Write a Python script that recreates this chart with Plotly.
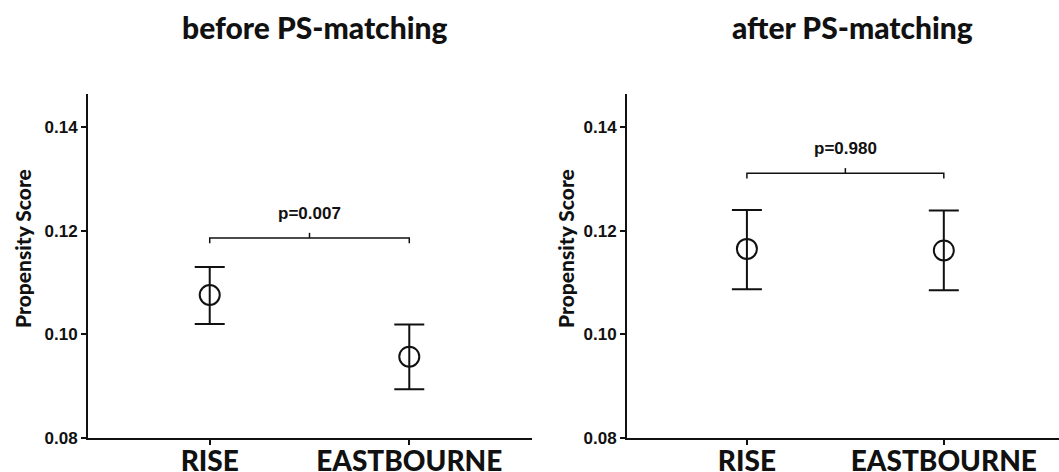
import plotly.graph_objects as go

# ---- data ----
categories = ["RISE", "EASTBOURNE"]
x_pos = [0, 1]

before_mean = [0.1076, 0.0957]
before_upper = [0.1130, 0.1019]
before_lower = [0.1020, 0.0894]

after_mean = [0.1165, 0.1162]
after_upper = [0.1240, 0.1239]
after_lower = [0.1087, 0.1085]

panel_titles = ["before PS-matching", "after PS-matching"]
p_labels = ["p=0.007", "p=0.980"]
bracket_levels = [0.1186, 0.1311]

y_ticks = [0.08, 0.10, 0.12, 0.14]
y_range = [0.08, 0.1464]
x_range_left = [-0.61, 1.615]
x_range_right = [-0.609, 1.585]

W, H = 1059, 472
M_T, M_B = 94, 34
PLOT_H = H - M_T - M_B

BLACK = "#111111"
TITLE_FONT = "Lato"
NUM_FONT = "Liberation Sans"

fig = go.Figure()

panels = [
    (before_mean, before_upper, before_lower, "x", "y"),
    (after_mean, after_upper, after_lower, "x2", "y2"),
]

for i, (mean, up, lo, xa, ya) in enumerate(panels):
    err_plus = [u - m for u, m in zip(up, mean)]
    err_minus = [m - l for m, l in zip(mean, lo)]
    fig.add_trace(go.Scatter(
        x=x_pos, y=mean, mode="markers", xaxis=xa, yaxis=ya,
        marker=dict(symbol="circle-open", size=20, color=BLACK,
                    line=dict(width=2, color=BLACK)),
        error_y=dict(type="data", array=err_plus, arrayminus=err_minus,
                     visible=True, color=BLACK, thickness=2, width=15),
        showlegend=False, hoverinfo="skip",
    ))
    lvl = bracket_levels[i]
    drop = 0.001
    fig.add_trace(go.Scatter(
        x=[x_pos[0], x_pos[0], x_pos[1], x_pos[1]],
        y=[lvl - drop, lvl, lvl, lvl - drop],
        mode="lines", xaxis=xa, yaxis=ya,
        line=dict(color=BLACK, width=1.5),
        showlegend=False, hoverinfo="skip",
    ))
    mid = (x_pos[0] + x_pos[1]) / 2
    fig.add_annotation(
        x=mid, y=lvl + 0.0047, xref=xa, yref=ya, text=p_labels[i],
        showarrow=False, yanchor="middle",
        font=dict(family=NUM_FONT, size=17, color=BLACK, weight="bold"),
    )
    fig.add_trace(go.Scatter(
        x=[mid, mid], y=[lvl, lvl + drop],
        mode="lines", xaxis=xa, yaxis=ya,
        line=dict(color=BLACK, width=1.5),
        showlegend=False, hoverinfo="skip",
    ))

axis_common = dict(
    showline=True, linecolor=BLACK, linewidth=2, showgrid=False,
    zeroline=False, ticks="outside", ticklen=5, tickwidth=1.5,
    tickcolor=BLACK, automargin=False,
)

xfont = dict(family=TITLE_FONT, size=28, color=BLACK, weight=900)
yfont = dict(family=NUM_FONT, size=17, color=BLACK, weight="bold")

fig.update_layout(
    width=W, height=H,
    margin=dict(l=0, r=0, t=M_T, b=M_B, autoexpand=False),
    paper_bgcolor="white", plot_bgcolor="white",
    xaxis=dict(domain=[88 / W, 532 / W], range=x_range_left,
               tickvals=x_pos, ticktext=categories, anchor="y",
               tickfont=xfont, ticklabelstandoff=-8, **axis_common),
    xaxis2=dict(domain=[627 / W, 1.0], range=x_range_right,
                tickvals=x_pos, ticktext=categories, anchor="y2",
                tickfont=xfont, ticklabelstandoff=-8, **axis_common),
    yaxis=dict(range=y_range, tickvals=y_ticks, tickformat=".2f", anchor="x",
               tickfont=yfont, **axis_common),
    yaxis2=dict(range=y_range, tickvals=y_ticks, tickformat=".2f", anchor="x2",
                tickfont=yfont, **axis_common),
)

def py(px_from_top):
    return (H - M_B - px_from_top) / PLOT_H

for title, cx in zip(panel_titles, [314, 852]):
    fig.add_annotation(
        x=cx / W, y=py(27), xref="paper", yref="paper", text=title,
        showarrow=False, xanchor="center", yanchor="middle",
        font=dict(family=TITLE_FONT, size=30, color=BLACK, weight=900),
    )

for cx in [22, 565]:
    fig.add_annotation(
        x=cx / W, y=py(249), xref="paper", yref="paper", text="Propensity Score",
        showarrow=False, xanchor="center", yanchor="middle", textangle=-90,
        font=dict(family=TITLE_FONT, size=21, color=BLACK, weight=900),
    )

fig.write_html("out.html")
